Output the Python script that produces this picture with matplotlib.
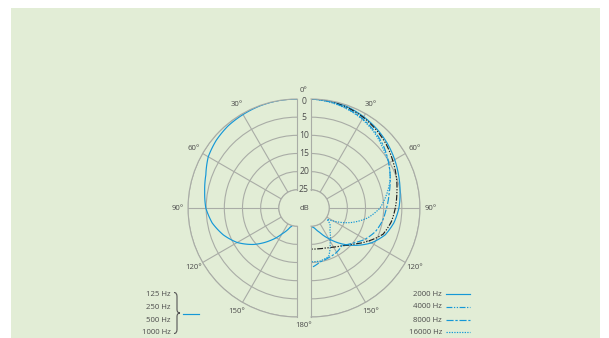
import numpy as np
import matplotlib
matplotlib.use("Agg")
import matplotlib.pyplot as plt
from matplotlib.lines import Line2D
from matplotlib.patches import Rectangle, PathPatch
from matplotlib.path import Path

plt.rcParams["font.family"] = ["Open Sans", "DejaVu Sans"]

# ---- data (attenuation in dB vs. angle in degrees) ----
ang_right = [0, 10, 20, 30, 40, 50, 60, 70, 80, 90, 100, 110, 120, 130, 140, 150, 160, 170, 180]
db_2000 = [0, -0.1, -0.4, -1.0, -1.7, -2.5, -3.4, -4.3, -5.1, -5.8, -6.8, -8.3, -10.8, -14.0, -17.2, -20.3, -22.8, -24.4, -25.0]
db_4000 = [0, -0.2, -0.6, -1.2, -2.0, -2.9, -4.0, -5.0, -6.0, -6.8, -7.6, -8.9, -11.8, -14.6, -16.5, -17.6, -18.3, -18.6, -18.7]
db_8000 = [0, -0.3, -0.9, -1.6, -2.6, -3.8, -5.3, -6.8, -8.2, -9.2, -10.0, -11.1, -12.8, -15.0, -16.6, -15.9, -15.5, -15.0, -13.5]

ang_16000 = [0, 10, 20, 30, 40, 50, 60, 70, 80, 90, 100, 110, 120, 125, 130, 140, 150, 155, 160, 170, 180]
db_16000 = [0, -0.4, -1.0, -1.8, -2.9, -4.2, -5.3, -6.8, -8.9, -11.0, -14.2, -18.3, -22.8, -24.6, -23.2, -21.9, -19.5, -17.6, -15.8, -15.2, -15.2]

ang_low = [0, 10, 20, 30, 40, 50, 60, 70, 80, 90, 100, 110, 120, 130, 140, 150, 160, 165]
db_low = [0, 0, -0.1, -0.3, -0.5, -1.0, -1.8, -3.3, -4.2, -4.9, -6.3, -8.4, -11.0, -14.4, -18.2, -21.8, -24.3, -25.0]

rings = [-25, -20, -15, -10, -5, 0]
ring_labels = ["25", "20", "15", "10", "5", "0"]
spoke_angles = [30, 60, 90, 120, 150]
low_labels = ["125 Hz", "250 Hz", "500 Hz", "1000 Hz"]
high_labels = ["2000 Hz", "4000 Hz", "8000 Hz", "16000 Hz"]

# ---- styling ----
BLUE = "#1598d6"
BLACK = "#1e1e1e"
GRID = "#a9aca6"
TXT = "#4d4d4d"
BG = "#e2edd6"
FS = 5.6

W, H = 609, 338
fig = plt.figure(figsize=(W / 100, H / 100), dpi=100)
fig.patch.set_facecolor("white")
fig.patches.append(Rectangle((11 / W, 0), (600 - 11) / W, (H - 8) / H,
                             transform=fig.transFigure, facecolor=BG,
                             edgecolor="none", zorder=-5))

# each half-disc is centred inside a square box of side 2R
R, CY, CXL, CXR = 109, 208, 297, 311
ax_r = fig.add_axes([(CXR - R / 2) / W, (H - CY - R) / H, 2 * R / W, 2 * R / H], projection="polar")
ax_l = fig.add_axes([(CXL - 1.5 * R) / W, (H - CY - R) / H, 2 * R / W, 2 * R / H], projection="polar")

for ax, (t0, t1), spokes in [(ax_r, (0, 180), spoke_angles),
                             (ax_l, (180, 360), [360 - a for a in spoke_angles])]:
    ax.set_theta_zero_location("N")
    ax.set_theta_direction(-1)
    ax.set_thetamin(t0)
    ax.set_thetamax(t1)
    ax.set_rorigin(-30)
    ax.set_ylim(-25, 0)
    ax.set_facecolor("none")
    ax.set_yticks(rings)
    ax.set_yticklabels([])
    ax.set_xticks(np.deg2rad(spokes))
    ax.set_xticklabels([])
    ax.tick_params(length=0)
    ax.grid(True, color=GRID, lw=0.8)
    for s in ax.spines.values():
        s.set_color(GRID)
        s.set_linewidth(0.8)

lw = 0.85
th = lambda a: np.deg2rad(a)
curves = []
curves += ax_l.plot(th(360 - np.array(ang_low)), db_low, color=BLUE, lw=lw)
curves += ax_r.plot(th(ang_right), db_2000, color=BLUE, lw=lw)
curves += ax_r.plot(th(ang_right), db_4000, color=BLACK, lw=lw, ls=(0, (5, 1.3, 1.1, 1.3, 1.1, 1.3)))
curves += ax_r.plot(th(ang_right), db_8000, color=BLUE, lw=lw, ls=(0, (6, 1.5, 2, 1.5)))
curves += ax_r.plot(th(ang_16000), db_16000, color=BLUE, lw=lw, ls=(0, (1.1, 1.1)))
# let the polar transform follow arcs between the sampled angles
for ln in curves:
    ln.get_path()._interpolation_steps = 24

# angle labels
for a in spoke_angles:
    ax_r.text(th(a), 2.9, f"{a}°", ha="center", va="center", fontsize=FS, color=TXT, clip_on=False)
    ax_l.text(th(360 - a), 2.9, f"{a}°", ha="center", va="center", fontsize=FS, color=TXT, clip_on=False)
ax_r.annotate("0°", xy=(0, 2.3), xytext=(-7, 0), textcoords="offset pixels",
              ha="center", va="center", fontsize=FS, color=TXT, annotation_clip=False)
ax_r.annotate("180°", xy=(np.pi, 2.3), xytext=(-7, 0), textcoords="offset pixels",
              ha="center", va="center", fontsize=FS, color=TXT, annotation_clip=False)

# ring labels in the gap between the halves
for r, lab in zip(rings, ring_labels):
    ax_r.annotate(lab, xy=(0, r), xytext=(-7, -2 if r == 0 else 0), textcoords="offset pixels",
                  ha="center", va="center", fontsize=FS + 0.6, color=TXT, annotation_clip=False)
ax_r.annotate("dB", xy=(0, -30), xytext=(-7, 0), textcoords="offset pixels",
              ha="center", va="center", fontsize=FS, color=TXT, annotation_clip=False)

# ---- legends ----
def fx(x):
    return x / W

def fy(y):
    return 1 - y / H

for lab, y in zip(low_labels, [295, 307.5, 320, 332.5]):
    fig.text(fx(171), fy(y), lab, ha="right", va="center", fontsize=FS, color=TXT)

verts = [(174, 292.5), (177, 292.5), (177, 296.5), (177, 309.5), (177, 313), (180, 313),
         (177, 313), (177, 316.5), (177, 329.5), (177, 333.5), (174, 333.5)]
codes = [Path.MOVETO, Path.CURVE3, Path.CURVE3, Path.LINETO, Path.CURVE3, Path.CURVE3,
         Path.CURVE3, Path.CURVE3, Path.LINETO, Path.CURVE3, Path.CURVE3]
brace = Path([(fx(x), fy(y)) for x, y in verts], codes)
fig.patches.append(PathPatch(brace, transform=fig.transFigure, facecolor="none",
                             edgecolor="#555555", lw=0.8))
fig.lines.append(Line2D([fx(183), fx(199)], [fy(313.5), fy(313.5)], transform=fig.transFigure,
                        color=BLUE, lw=lw))

legend_styles = [("-", BLUE), ((0, (5, 1.3, 1.1, 1.3, 1.1, 1.3)), BLUE),
                 ((0, (6, 1.5, 2, 1.5)), BLUE), ((0, (1.1, 1.1)), BLUE)]
for lab, y, (ls, col) in zip(high_labels, [294, 306.7, 320, 332.3], legend_styles):
    fig.text(fx(442), fy(y), lab, ha="right", va="center", fontsize=FS, color=TXT)
    fig.lines.append(Line2D([fx(446), fx(470)], [fy(y), fy(y)], transform=fig.transFigure,
                            color=col, lw=lw, ls=ls))

fig.savefig("out.png", dpi=100, facecolor=fig.get_facecolor())
